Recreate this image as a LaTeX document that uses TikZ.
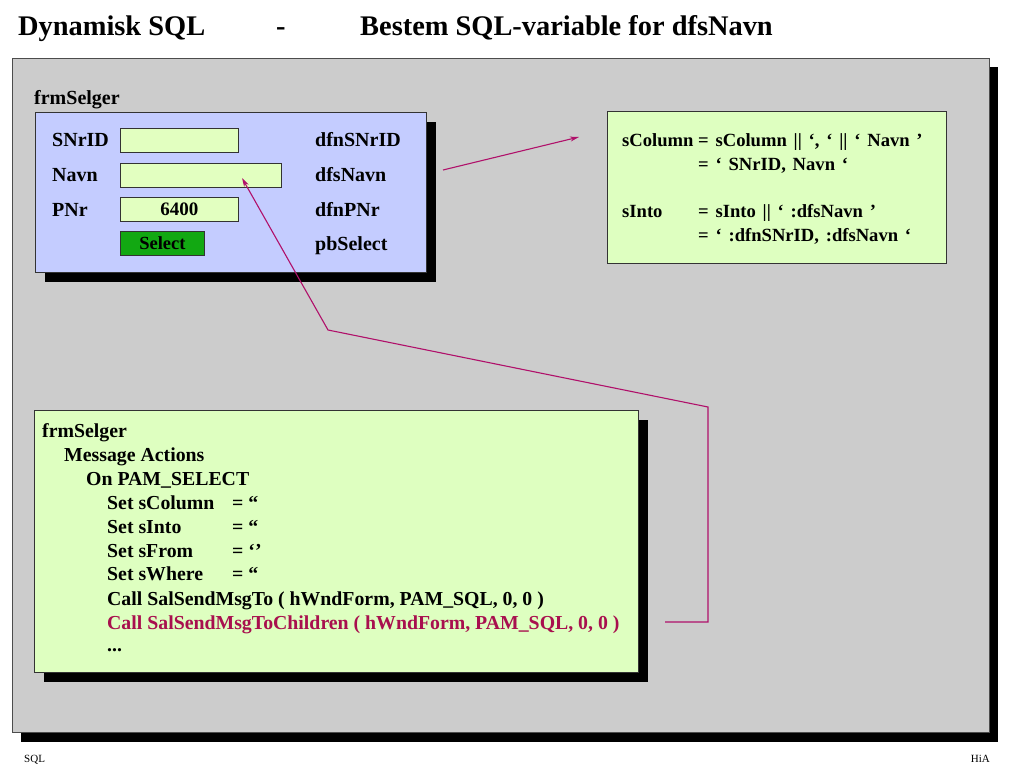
\documentclass[tikz,border=0pt]{standalone}
\usepackage{fontspec}
\setmainfont{Liberation Serif}
\usetikzlibrary{arrows.meta}
\definecolor{panelgray}{HTML}{CCCCCC}
\definecolor{formblue}{HTML}{C4CCFF}
\definecolor{fieldgreen}{HTML}{E2FFC0}
\definecolor{codegreen}{HTML}{DEFFC0}
\definecolor{btngreen}{HTML}{12A812}
\definecolor{linkmag}{HTML}{B0106A}
\definecolor{redtext}{HTML}{A8104E}
\newcommand\mywidespaces{\spaceskip=6.8pt\relax}
\begin{document}
\begin{tikzpicture}[x=1pt,y=-1pt,
  txt/.style={font=\fontsize{20}{22}\selectfont\bfseries, inner sep=0pt, anchor=base west},
  codetxt/.style={font=\fontsize{19.8}{22}\selectfont\bfseries, inner sep=0pt, anchor=base west},
  sqltxt/.style={font=\fontsize{18.6}{22}\selectfont\bfseries\mywidespaces, inner sep=0pt, anchor=base west},
  titletxt/.style={font=\fontsize{28.4}{32}\selectfont\bfseries, inner sep=0pt, anchor=base west},
  box/.style={draw=black!80, line width=0.8pt, anchor=north west, inner sep=0pt},
  link/.style={draw=linkmag, line width=1.1pt},
  ]
\useasboundingbox (0,0) rectangle (1024,768);
\fill[white] (0,0) rectangle (1024,768);
% title
\node[titletxt] (t1) at (18,36) {Dynamisk SQL};
\node[titletxt] (t2) at (276,36) {-};
\node[titletxt] (t3) at (360,36) {Bestem SQL-variable for dfsNavn};
% panel
\fill[black] (21,67) rectangle (998,742);
\draw[fill=panelgray, draw=black!70, line width=0.8pt] (12,58) rectangle (989,732);
% form
\node[txt] (formtitle) at (34,104) {frmSelger};
\fill[black] (45,122) rectangle (436,282);
\node[box, fill=formblue, minimum width=391pt, minimum height=160pt] (form) at (35,112) {};
\node[txt] (l1) at (52,146) {SNrID};
\node[txt] (l2) at (52,181) {Navn};
\node[txt] (l3) at (52,216) {PNr};
\node[box, fill=fieldgreen, minimum width=118pt, minimum height=24pt] (f1) at (120,128) {};
\node[box, fill=fieldgreen, minimum width=161pt, minimum height=24pt] (f2) at (120,163) {};
\node[box, fill=fieldgreen, minimum width=118pt, minimum height=24pt, font=\fontsize{19}{22}\selectfont\bfseries] (f3) at (120,197) {6400};
\node[box, fill=btngreen, minimum width=84pt, minimum height=24pt, font=\fontsize{18.5}{22}\selectfont\bfseries] (btn) at (120,231) {Select};
\node[txt] (r1) at (315,146) {dfnSNrID};
\node[txt] (r2) at (315,181) {dfsNavn};
\node[txt] (r3) at (315,216) {dfnPNr};
\node[txt] (r4) at (315,250) {pbSelect};
% right box
\node[box, fill=codegreen, minimum width=339pt, minimum height=152pt] (sqlbox) at (607,111) {};
\node[sqltxt] (s1) at (622,146) {sColumn};
\node[sqltxt] (s2) at (698,146) {= sColumn || ‘, ‘ || ‘ Navn ’};
\node[sqltxt] (s3) at (698,170) {= ‘ SNrID, Navn ‘};
\node[sqltxt] (s4) at (622,217) {sInto};
\node[sqltxt] (s5) at (698,217) {= sInto || ‘ :dfsNavn ’};
\node[sqltxt] (s6) at (698,241) {= ‘ :dfnSNrID, :dfsNavn ‘};
% code box
\fill[black] (44,420) rectangle (648,682);
\node[box, fill=codegreen, minimum width=604pt, minimum height=262pt] (code) at (34,410) {};
\node[codetxt] (c1) at (42,437) {frmSelger};
\node[codetxt] (c2) at (64,461) {Message Actions};
\node[codetxt] (c3) at (86,485) {On PAM\_SELECT};
\node[codetxt] (c4) at (107,509) {Set sColumn};
\node[codetxt] (c4b) at (232,509) {= “};
\node[codetxt] (c5) at (107,533) {Set sInto};
\node[codetxt] (c5b) at (232,533) {= “};
\node[codetxt] (c6) at (107,557) {Set sFrom};
\node[codetxt] (c6b) at (232,557) {= ‘’};
\node[codetxt] (c7) at (107,580) {Set sWhere};
\node[codetxt] (c7b) at (232,580) {= “};
\node[codetxt] (c8) at (107,605) {Call SalSendMsgTo ( hWndForm, PAM\_SQL, 0, 0 )};
\node[codetxt, text=redtext] (c9) at (107,629) {Call SalSendMsgToChildren ( hWndForm, PAM\_SQL, 0, 0 )};
\node[codetxt] (c10) at (107,651) {...};
% connectors
\coordinate (a1s) at (443,170);
\coordinate (a1e) at (579,137);
\draw[link, -{Stealth[length=9pt,width=5pt]}] (a1s) -- (a1e);
\coordinate (a2s) at (665,622);
\coordinate (a2b) at (708,622);
\coordinate (a2c) at (708,407);
\coordinate (a2d) at (328,330);
\coordinate (a2e) at (242,178);
\draw[link, -{Stealth[length=9pt,width=5pt]}] (a2s) -- (a2b) -- (a2c) -- (a2d) -- (a2e);
% footer
\node[font=\fontsize{11}{13}\selectfont, inner sep=0pt, anchor=base west] (foot1) at (24,762) {SQL};
\node[font=\fontsize{11}{13}\selectfont, inner sep=0pt, anchor=base east] (foot2) at (990,762) {HiA};
\end{tikzpicture}
\end{document}
